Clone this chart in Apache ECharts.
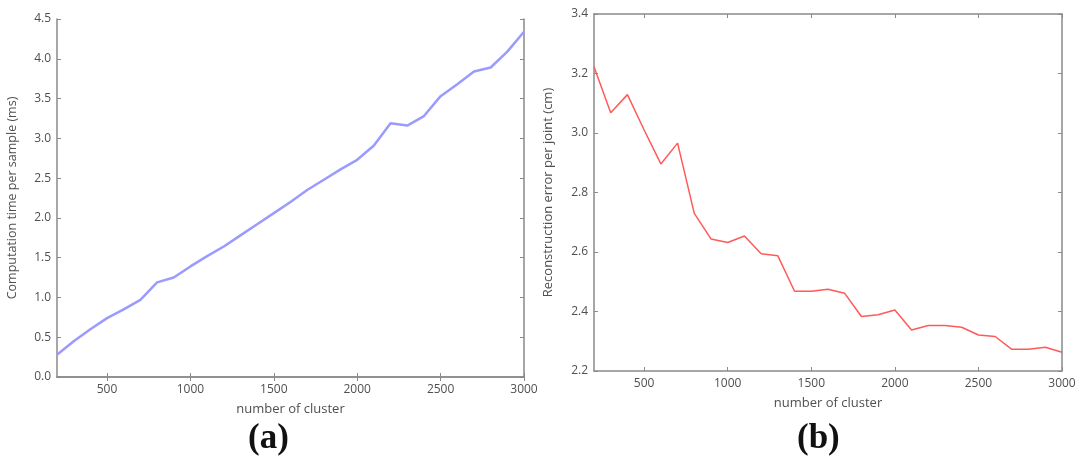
<!DOCTYPE html>
<html><head><meta charset="utf-8">
<script src="https://cdn.jsdelivr.net/npm/echarts@6/dist/echarts.min.js"></script>
<style>html,body{margin:0;padding:0;background:#fff}#c{width:1087px;height:466px}</style>
</head><body><div id="c"></div>
<script>
const clusters = [200,300,400,500,600,700,800,900,1000,1100,1200,1300,1400,1500,1600,1700,1800,1900,2000,2100,2200,2300,2400,2500,2600,2700,2800,2900,3000];
const timeMs = [0.28,0.45,0.60,0.74,0.85,0.97,1.19,1.25,1.39,1.52,1.64,1.78,1.92,2.06,2.20,2.35,2.48,2.61,2.73,2.91,3.19,3.16,3.28,3.53,3.68,3.84,3.89,4.09,4.34];
const errCm = [3.223,3.068,3.129,3.01,2.896,2.966,2.73,2.644,2.632,2.654,2.594,2.587,2.468,2.468,2.475,2.461,2.383,2.389,2.405,2.338,2.353,2.353,2.347,2.321,2.316,2.273,2.273,2.28,2.263];
const xTicks = [500,1000,1500,2000,2500,3000];
const yTicksA = [0,0.5,1,1.5,2,2.5,3,3.5,4,4.5];
const yTicksB = [2.2,2.4,2.6,2.8,3.0,3.2,3.4];
const labelA = '(a)', labelB = '(b)';
const xName = 'number of cluster';
const yNameA = 'Computation time per sample (ms)';
const yNameB = 'Reconstruction error per joint (cm)';

const FONT = 'Open Sans';
const axisCol = '#8a8a8a';
const txt = '#505050';

function xAx(gi, pos){
  const main = pos === 'bottom';
  return {
    type:'value', gridIndex:gi, position:pos, min:200, max:3000,
    name: main ? xName : '', nameLocation:'middle', nameGap:26,
    nameTextStyle:{fontFamily:FONT,fontSize:13,color:txt},
    axisLine:{show:true,lineStyle:{color:axisCol,width:1.5}},
    axisTick:{show:true,inside:true,length:4,customValues:xTicks,lineStyle:{color:axisCol}},
    axisLabel:{show:main,customValues:xTicks,fontFamily:FONT,fontSize:12,color:txt,margin:7,
      formatter:v=>String(v)},
    splitLine:{show:false}
  };
}
function yAx(gi,pos,ticks,min,max,name,fs,gap){
  const main = pos === 'left';
  return {
    type:'value', gridIndex:gi, position:pos, min:min, max:max,
    name: main ? name : '', nameLocation:'middle', nameGap:gap||36,
    nameTextStyle:{fontFamily:FONT,fontSize:fs||12,color:txt},
    axisLine:{show:true,lineStyle:{color:axisCol,width:1.5}},
    axisTick:{show:true,inside:true,length:4,customValues:ticks,lineStyle:{color:axisCol}},
    axisLabel:{show:main,customValues:ticks,fontFamily:FONT,fontSize:12,color:txt,margin:6,
      formatter:v=>v.toFixed(1)},
    splitLine:{show:false}
  };
}

const chart = echarts.init(document.getElementById('c'));
chart.setOption({
  animation:false,
  grid:[
    {left:57,right:563,top:19,bottom:89},
    {left:594,right:25,top:14,bottom:95}
  ],
  xAxis:[xAx(0,'bottom'),xAx(0,'top'),xAx(1,'bottom'),xAx(1,'top')],
  yAxis:[yAx(0,'left',yTicksA,0,4.5,yNameA,12.5,38),yAx(0,'right',yTicksA,0,4.5,''),
         yAx(1,'left',yTicksB,2.2,3.4,yNameB,13,39),yAx(1,'right',yTicksB,2.2,3.4,'')],
  series:[
    {type:'line',xAxisIndex:0,yAxisIndex:0,data:clusters.map((c,i)=>[c,timeMs[i]]),
     showSymbol:false,lineStyle:{color:'#9b9bff',width:2.5}},
    {type:'line',xAxisIndex:2,yAxisIndex:2,data:clusters.map((c,i)=>[c,errCm[i]]),
     showSymbol:false,lineStyle:{color:'#ff5a5a',width:1.5}}
  ],
  graphic:[
    {type:'text',left:248,top:421,style:{text:labelA,font:'bold 35px "Liberation Serif"',fill:'#111'}},
    {type:'text',left:797,top:421,style:{text:labelB,font:'bold 35px "Liberation Serif"',fill:'#111'}}
  ]
});
</script></body></html>
